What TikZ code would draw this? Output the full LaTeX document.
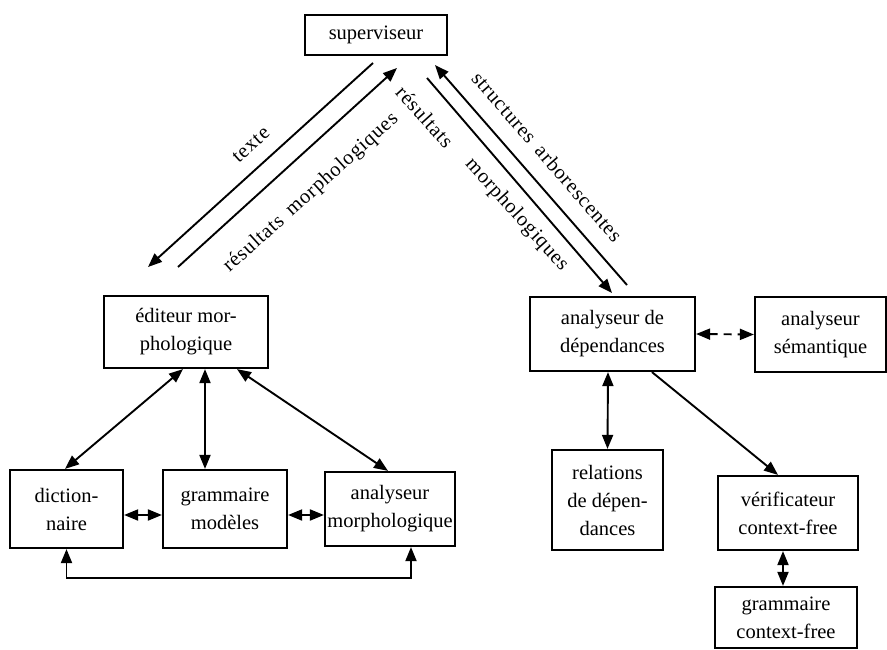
\documentclass[tikz,border=0pt]{standalone}
\usepackage{fontspec}
\setmainfont{Liberation Serif}
\newfontfamily\spacedfont[LetterSpace=4]{Liberation Serif}
\usetikzlibrary{arrows.meta}
\begin{document}
\begin{tikzpicture}[x=1pt,y=-1pt,
  boxfont/.style={font=\fontsize{20.5}{28}\selectfont},
  box/.style={draw, line width=2.2pt, inner sep=0pt, align=center, boxfont},
  lbl/.style={inner sep=0pt, font=\spacedfont\fontsize{20.5}{28}\selectfont},
  conn/.style={line width=1.9pt},
  tip/.style={conn, -{Triangle[length=14pt,width=11pt]}},
  dbl/.style={conn, {Triangle[length=14pt,width=11pt]}-{Triangle[length=14pt,width=11pt]}}]
\useasboundingbox (0,0) rectangle (887,650);

% boxes
\node[box, minimum width=142, minimum height=40] (sup) at (376,35) {superviseur};
\node[box, minimum width=164, minimum height=72] (edit) at (186,332) {éditeur mor-\\phologique};
\node[box, minimum width=113, minimum height=78] (dict) at (66.5,509) {diction-\\naire};
\node[box, minimum width=124, minimum height=78] (gram) at (225,509) {grammaire\\modèles};
\node[box, minimum width=130, minimum height=74] (amorph) at (390,509) {analyseur\\morphologique};
\node[box, minimum width=165, minimum height=74] (adep) at (612.5,334) {analyseur de\\dépendances};
\node[box, minimum width=131, minimum height=75] (asem) at (820.5,334.5) {analyseur\\sémantique};
\node[box, minimum width=111, minimum height=100] (rel) at (607.5,500) {relations\\de dépen-\\dances};
\node[box, minimum width=140, minimum height=74] (verif) at (788,513) {vérificateur\\context-free};
\node[box, minimum width=142, minimum height=61] (gcf) at (786,617.5) {grammaire\\context-free};

% free ends of the parallel arrows between the supervisor and the two editors
\coordinate (txA) at (373,63);   \coordinate (txB) at (148,267);
\coordinate (rmA) at (178,267);  \coordinate (rmB) at (397,68);
\coordinate (rdA) at (427,78);   \coordinate (rdB) at (612,293);
\coordinate (saA) at (627,285);  \coordinate (saB) at (435,65);

\draw[tip] (txA) -- (txB);
\draw[tip] (rmA) -- (rmB);
\draw[tip] (rdA) -- (rdB);
\draw[tip] (saA) -- (saB);

% arrow labels
\node[lbl, rotate=42] (ltexte) at (251,145) {texte};
\node[lbl, rotate=42] (lresL) at (311,193) {résultats\hspace{0.45em}morphologiques};
\node[lbl, rotate=-48] (lresR) at (425,117) {résultats};
\node[lbl, rotate=-48] (lmorR) at (516.7,215) {morphologiques};
\node[lbl, rotate=-49] (lstruct) at (547.3,156.7) {structures\hspace{0.45em}arborescentes};

% morphological editor and its components
\draw[dbl] ([xshift=-3pt]edit.south) -- ([xshift=-1.5pt]dict.north);
\draw[dbl] ([xshift=19pt]edit.south) -- ([xshift=-20pt]gram.north);
\draw[dbl] ([xshift=51pt]edit.south) -- ([xshift=-2pt]amorph.north);
\draw[dbl] ([yshift=-6pt]dict.east) -- ([yshift=-6pt]gram.west);
\draw[dbl] ([yshift=-6pt]gram.east) -- ([yshift=-6pt]amorph.west);
\draw[dbl] (dict.south) -- ++(0,29) -| ([xshift=21pt]amorph.south);

% dependency analyser and its components
\draw[dbl, dash pattern=on 8pt off 6pt] (adep.east) -- (asem.west);
\draw[dbl] ([xshift=-4.5pt]adep.south) -- (rel.north);
\draw[tip] ([xshift=39.5pt]adep.south) -- ([xshift=-10pt]verif.north);
\draw[dbl] ([xshift=-5pt]verif.south) -- ([xshift=-3pt]gcf.north);
\end{tikzpicture}
\end{document}
